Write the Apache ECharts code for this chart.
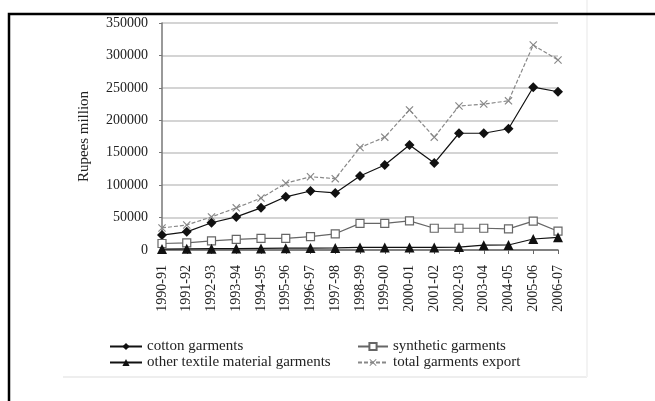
<!DOCTYPE html>
<html>
<head>
<meta charset="utf-8">
<script src="https://cdn.jsdelivr.net/npm/echarts@6/dist/echarts.min.js"></script>
<style>html,body{margin:0;padding:0;background:#fff;}#c{width:655px;height:401px;}</style>
</head>
<body>
<div id="c"></div>
<script>
const categories = ['1990-91','1991-92','1992-93','1993-94','1994-95','1995-96','1996-97','1997-98','1998-99','1999-00','2000-01','2001-02','2002-03','2003-04','2004-05','2005-06','2006-07'];
const cotton = [23000,28000,42000,51000,65000,82000,91000,88000,114000,131000,162000,134000,180000,180000,187000,251000,244000];
const synthetic = [10000,11000,14000,16500,18000,18000,20500,25000,41000,41000,45000,33500,33500,33500,32500,44500,29000];
const otherTextile = [1500,1800,2000,2200,2500,2800,3000,3200,4000,4000,4000,4000,4500,7500,7700,17000,19600];
const total = [34000,38600,51000,65000,80000,103000,113000,110000,158000,174000,216000,174000,222000,225000,230000,316000,293000];
const yTicks = {min:0, max:350000, interval:50000};

const serif = 'Liberation Serif';
const xSym = 'path://M0,1 L1,0 L5,4 L9,0 L10,1 L6,5 L10,9 L9,10 L5,6 L1,10 L0,9 L4,5 Z';
const chart = echarts.init(document.getElementById('c'));
chart.setOption({
  backgroundColor:'#fff',
  animation:false,
  textStyle:{fontFamily:serif},
  grid:{left:162, right:97, top:23, bottom:151},
  xAxis:{
    type:'category', data:categories, boundaryGap:false,
    axisLine:{lineStyle:{color:'#666', width:1.5}},
    axisTick:{show:true, length:4, lineStyle:{color:'#666'}},
    axisLabel:{rotate:90, interval:0, fontFamily:serif, fontSize:14, color:'#222', margin:15}
  },
  yAxis:{
    type:'value', min:yTicks.min, max:yTicks.max, interval:yTicks.interval,
    name:'Rupees million', nameLocation:'middle', nameGap:70,
    nameTextStyle:{fontFamily:serif, fontSize:15, color:'#222'},
    axisLine:{show:true, lineStyle:{color:'#777', width:1.5}},
    axisTick:{show:true, length:3, lineStyle:{color:'#777'}},
    axisLabel:{fontFamily:serif, fontSize:14, color:'#222', margin:14, formatter:v => String(v)},
    splitLine:{lineStyle:{color:'#d4d4d4', width:2}}
  },
  legend:[
    {left:104, top:334, orient:'vertical', itemGap:1, itemWidth:32, itemHeight:9,
     textStyle:{fontFamily:serif, fontSize:15, color:'#222'},
     data:['cotton garments','other textile material garments']},
    {left:352, top:334, orient:'vertical', itemGap:1, itemWidth:30, itemHeight:9,
     textStyle:{fontFamily:serif, fontSize:15, color:'#222'},
     data:['synthetic garments','total garments export']}
  ],
  graphic:[
    {type:'line', shape:{x1:63, y1:377, x2:587, y2:377}, style:{stroke:'#eeeeee', lineWidth:2}, z:-1},
    {type:'line', shape:{x1:587, y1:0, x2:587, y2:377}, style:{stroke:'#f3f3f3', lineWidth:2}, z:-1},
    {type:'rect', shape:{x:9, y:14, width:700, height:420}, style:{fill:'none', stroke:'#000', lineWidth:2.5}}
  ],
  series:[
    {name:'cotton garments', type:'line', data:cotton, symbol:'diamond', symbolSize:10,
     lineStyle:{color:'#111', width:1.2}, itemStyle:{color:'#111'}},
    {name:'synthetic garments', type:'line', data:synthetic, symbol:'rect', symbolSize:8,
     lineStyle:{color:'#666', width:1.2}, itemStyle:{color:'#fff', borderColor:'#666', borderWidth:1.2}},
    {name:'other textile material garments', type:'line', data:otherTextile, symbol:'triangle', symbolSize:10,
     lineStyle:{color:'#111', width:1.2}, itemStyle:{color:'#111'}},
    {name:'total garments export', type:'line', data:total, symbol:xSym, symbolSize:8,
     lineStyle:{color:'#888', width:1.2, type:[4,2]}, itemStyle:{color:'#888'}}
  ]
});
</script>
</body>
</html>
